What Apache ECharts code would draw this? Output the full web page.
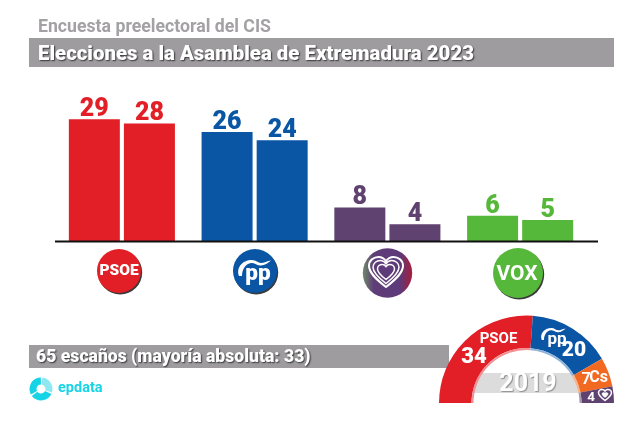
<!DOCTYPE html>
<html><head><meta charset="utf-8">
<style>html,body{margin:0;padding:0;background:#fff}#c{width:640px;height:427px}</style>
<script src="https://cdn.jsdelivr.net/npm/echarts@6/dist/echarts.min.js"></script>
</head><body><div id="c"></div>
<script>
const parties = ['PSOE','PP','Podemos','Vox'];
const partyColors = ['#e21f26','#0a56a5','#5f4270','#56b83a'];
const estimateHigh = [29,26,8,6];
const estimateLow = [28,24,4,5];
const seats2019Names = ['PSOE','PP','Cs','Podemos'];
const seats2019 = [34,20,7,4];
const seats2019Colors = ['#e21f26','#0a56a5','#f26a21','#5f4270'];
const seats2019Rim = ['#f28f93','#8fb4d8','#f9b48d','#a79ab0'];
const chartTitle = 'Elecciones a la Asamblea de Extremadura 2023';
const chartSubtitle = 'Encuesta preelectoral del CIS';
const seatsNote = '65 escaños (mayoría absoluta: 33)';
const archYear = '2019';
const font = 'Roboto';

echarts.graphic.registerShape('heartShape', echarts.graphic.extendShape({
  shape:{cx:0,cy:0,w:10,h:10},
  buildPath(ctx,s){
    const X=v=>s.cx+(v-50)/90*s.w, Y=v=>s.cy+(v-47.5)/85*s.h;
    ctx.moveTo(X(50),Y(90));
    ctx.bezierCurveTo(X(20),Y(65),X(5),Y(48),X(5),Y(30));
    ctx.bezierCurveTo(X(5),Y(14),X(18),Y(5),X(30),Y(5));
    ctx.bezierCurveTo(X(39),Y(5),X(46),Y(10),X(50),Y(17));
    ctx.bezierCurveTo(X(54),Y(10),X(61),Y(5),X(70),Y(5));
    ctx.bezierCurveTo(X(82),Y(5),X(95),Y(14),X(95),Y(30));
    ctx.bezierCurveTo(X(95),Y(48),X(80),Y(65),X(50),Y(90));
    ctx.closePath();
  }
}));
echarts.graphic.registerShape('ppSwoosh', echarts.graphic.extendShape({
  shape:{x:0,y:0,k:1},
  buildPath(ctx,s){
    const X=v=>s.x+v*s.k, Y=v=>s.y+v*s.k;
    ctx.moveTo(X(1),Y(16));
    ctx.bezierCurveTo(X(-2),Y(8),X(4),Y(0),X(14),Y(0));
    ctx.bezierCurveTo(X(18),Y(0),X(20),Y(3),X(23),Y(3));
    ctx.bezierCurveTo(X(26),Y(3),X(29),Y(1),X(33),Y(0.5));
    ctx.bezierCurveTo(X(30),Y(3),X(26),Y(6),X(22),Y(5.5));
    ctx.bezierCurveTo(X(18),Y(5),X(16),Y(2.5),X(13),Y(3));
    ctx.bezierCurveTo(X(8),Y(3.5),X(4),Y(9),X(4),Y(16));
    ctx.closePath();
  }
}));
function heart(cx,cy,w,h,fill,stroke,lw,z){
  return {type:'heartShape',z:z,shape:{cx:cx,cy:cy,w:w,h:h},style:{fill:fill,stroke:stroke,lineWidth:lw}};
}
function swoosh(x,y,k){
  return {type:'ppSwoosh',z:50,shape:{x:x,y:y,k:k},style:{fill:'#fff'}};
}
function text(x,y,str,size,color,opt){
  return {type:'text',x:x,y:y,z:50,style:Object.assign({text:str,fontFamily:font,fontWeight:'bold',fontSize:size,fill:color,align:'center',verticalAlign:'middle'},opt||{})};
}
const shadowTxt={textShadowColor:'rgba(0,0,0,.65)',textShadowBlur:1.5,textShadowOffsetX:1,textShadowOffsetY:1};
function logoDisc(cx,cy,r,fill){
  return [
    {type:'circle',z:5,shape:{cx:cx+1.2,cy:cy+1.5,r:r},style:{fill:'#3a3a3a'}},
    {type:'circle',z:6,shape:{cx:cx,cy:cy,r:r},style:{fill:fill}}
  ];
}
function barSeries(name,vals){
  return {name:name,type:'bar',barWidth:51,barGap:'8%',
    data:vals.map((v,i)=>({value:v,itemStyle:{color:partyColors[i]},
      label:{color:partyColors[i]}})),
    label:{show:true,position:'top',distance:-3,fontFamily:font,fontWeight:900,fontSize:25}};
}
const graphics=[
  {type:'rect',z:-5,shape:{x:29,y:38,width:585,height:29},style:{fill:'#9e9c9f'}},
  {type:'rect',z:-5,shape:{x:29,y:345,width:420,height:23},style:{fill:'#9e9c9f'}},
  {type:'rect',z:-5,shape:{x:470,y:373,width:116,height:20},style:{fill:'#dcdcdc'}},
  {type:'line',z:20,shape:{x1:55,y1:241.5,x2:598,y2:241.5},style:{stroke:'#111',lineWidth:2}},
  text(38,27.5,chartSubtitle,17.7,'#a3a1a4',{align:'left'}),
  text(38,55,chartTitle,20.4,'#fff',Object.assign({align:'left',fontWeight:900},shadowTxt)),
  text(36,357.5,seatsNote,17.6,'#fff',Object.assign({align:'left',fontWeight:900},shadowTxt)),
  text(528,384.5,archYear,25,'#fff',{textShadowColor:'rgba(0,0,0,.35)',textShadowBlur:1,textShadowOffsetX:1,textShadowOffsetY:1}),
  ...logoDisc(119,271,22,'#e21f26'),
  text(119,271.5,'PSOE',15.5,'#fff',{fontWeight:900}),
  ...logoDisc(255,271,22,'#0a56a5'),
  text(258,274,'pp',22.5,'#fff',{fontWeight:900}),
  swoosh(238,260,1),
  {type:'circle',z:6,shape:{cx:387.5,cy:273,r:24.7},style:{fill:{type:'linear',x:0,y:0,x2:1,y2:0,colorStops:[{offset:0,color:'#6f8a68'},{offset:.22,color:'#5f3d78'},{offset:.75,color:'#5d3a7a'},{offset:1,color:'#a81c3a'}]}}},
  heart(386,272,34,30,'none','#fff',2,50),
  heart(386,272,26,23,'none','#fff',1.5,50),
  heart(386,272,17,15,'#5d3a78','#fff',1.5,50),
  ...logoDisc(518,273,25,'#56b83a'),
  text(517,275,'VOX',21,'#fff',{}),
  text(498.5,339.5,seats2019Names[0],15,'#fff',{}),
  text(474,357,String(seats2019[0]),22,'#fff',{fontWeight:900}),
  text(574,351,String(seats2019[1]),21,'#fff',{fontWeight:900}),
  text(557,340,'pp',17,'#fff',{}),
  swoosh(541,328,.75),
  text(586,379.5,String(seats2019[2]),16,'#fff',{}),
  text(598.5,378,'Cs',16,'#fff',{}),
  text(591,397.5,String(seats2019[3]),13.5,'#fff',{}),
  heart(605,395,13,11,'none','#fff',1.5,50),
  heart(605,395,6,5,'#fff','#fff',.5,50),
  {type:'sector',z:10,shape:{cx:41,cy:389,r:11.5,r0:4.5,startAngle:-1.45,endAngle:0.3},style:{fill:'#8ee8ef'}},
  {type:'sector',z:10,shape:{cx:41,cy:389,r:11.5,r0:4.5,startAngle:0.45,endAngle:2.5},style:{fill:'#17d3e6'}},
  {type:'sector',z:10,shape:{cx:41,cy:389,r:11.5,r0:4.5,startAngle:2.65,endAngle:4.7},style:{fill:'#17d3e6'}},
  text(58,388.5,'epdata',14.5,'#17d3e6',{align:'left'})
];
const chart=echarts.init(document.getElementById('c'),null,{renderer:'canvas'});
chart.setOption({
  animation:false,backgroundColor:'#fff',
  grid:{left:55.5,width:531,top:90,height:151},
  xAxis:{type:'category',data:parties,axisLine:{show:false},axisTick:{show:false},axisLabel:{show:false}},
  yAxis:{type:'value',min:0,max:36,show:false,splitLine:{show:false}},
  series:[
    barSeries('Máximo',estimateHigh),
    barSeries('Mínimo',estimateLow),
    {type:'pie',center:[526.5,403],radius:[55,87.5],startAngle:180,endAngle:0,silent:true,
      label:{show:false},labelLine:{show:false},itemStyle:{borderWidth:0},
      data:seats2019.map((v,i)=>({name:seats2019Names[i],value:v,itemStyle:{color:seats2019Colors[i]}}))},
    {type:'pie',center:[526.5,403],radius:[53,55],startAngle:180,endAngle:0,silent:true,
      label:{show:false},labelLine:{show:false},
      data:seats2019.map((v,i)=>({name:seats2019Names[i],value:v,itemStyle:{color:seats2019Rim[i]}}))}
  ],
  graphic:{elements:graphics}
});
</script></body></html>
